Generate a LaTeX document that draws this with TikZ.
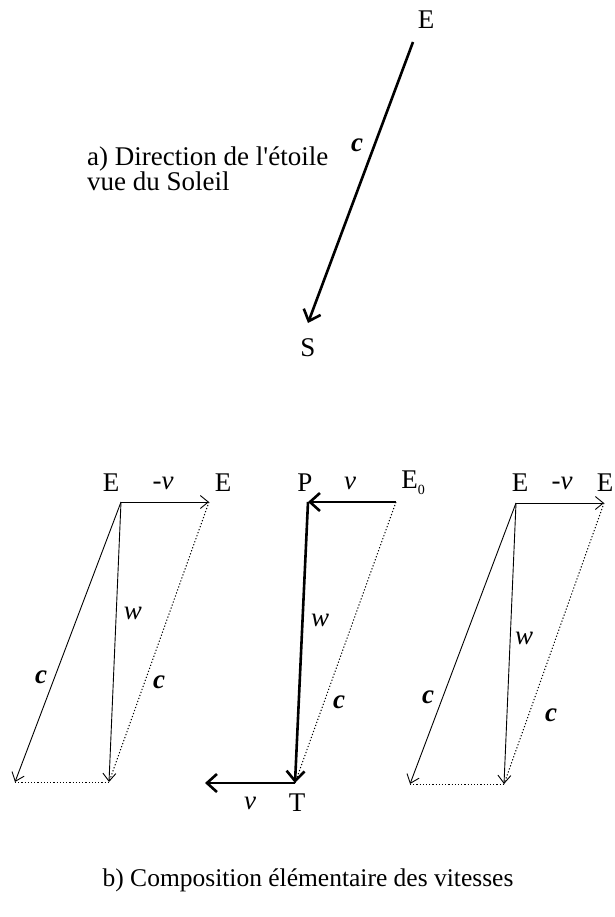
\documentclass[tikz,border=0pt]{standalone}
\usepackage{fontspec}
\setmainfont{Liberation Serif}
\usetikzlibrary{arrows.meta}

\begin{document}
\begin{tikzpicture}[x=1pt, y=-1pt, font=\fontsize{27}{31}\selectfont,
    lbl/.style={inner sep=0pt},
    fine/.style={line width=0.9pt, -{Straight Barb[length=8pt,width=13pt]}},
    heavy/.style={line width=2.6pt, -{Straight Barb[length=10pt,width=18pt]}},
    dotline/.style={dash pattern=on 1.2pt off 2pt, line width=1pt}]
  \useasboundingbox (0,0) rectangle (614,917);

  % a) direction of the star
  \coordinate (e0) at (413,42);
  \coordinate (s0) at (308,323);
  \node[lbl] (Etop) at (426,20) {E};
  \node[lbl] (Sbot) at (308,348) {S};
  \draw[heavy] (e0) -- (s0);
  \node[lbl] (ctop) at (357,145) {\textbf{\textit{c}}};
  \node[lbl, anchor=north west, align=left, font=\fontsize{27}{25}\selectfont] (capa) at (87,147)
    {a) Direction de l\textquotesingle étoile\\vue du Soleil};

  % b) left
  \coordinate (o1) at (121,502);
  \coordinate (v1) at (209,502);
  \coordinate (c1) at (15,782);
  \coordinate (w1) at (109,782);
  \node[lbl] (E1) at (111,483) {E};
  \node[lbl] (mv1) at (163,483) {-\textit{v}};
  \node[lbl] (E1b) at (223,483) {E};
  \draw[fine] (o1) -- (v1);
  \draw[fine] (o1) -- (c1);
  \draw[fine] (o1) -- (w1);
  \draw[dotline] (v1) -- (w1);
  \draw[dotline] (c1) -- (w1);
  \node[lbl] (w1l) at (133,613) {\textit{w}};
  \node[lbl] (c1l) at (41,677) {\textbf{\textit{c}}};
  \node[lbl] (c1r) at (159,682) {\textbf{\textit{c}}};

  % b) middle
  \coordinate (p2) at (308,502);
  \coordinate (e2) at (396,502);
  \coordinate (t2) at (295,783);
  \coordinate (l2) at (205,783);
  \node[lbl] (P2) at (305,483) {P};
  \node[lbl] (v2) at (350,483) {\textit{v}};
  \node[lbl] (E2) at (413,483) {E\raisebox{-0.45ex}{\fontsize{14}{14}\selectfont 0}};
  \draw[heavy] (e2) -- (p2);
  \draw[heavy] (p2) -- (t2);
  \draw[heavy] (t2) -- (l2);
  \draw[dotline] (e2) -- (t2);
  \node[lbl] (w2l) at (320,620) {\textit{w}};
  \node[lbl] (c2l) at (339,702) {\textbf{\textit{c}}};
  \node[lbl] (v2b) at (250,803) {\textit{v}};
  \node[lbl] (T2) at (297,803) {T};

  % b) right
  \coordinate (o3) at (516,503);
  \coordinate (v3) at (604,503);
  \coordinate (c3) at (410,784);
  \coordinate (w3) at (504,784);
  \node[lbl] (E3) at (520,483) {E};
  \node[lbl] (mv3) at (562,483) {-\textit{v}};
  \node[lbl] (E3b) at (605,483) {E};
  \draw[fine] (o3) -- (v3);
  \draw[fine] (o3) -- (c3);
  \draw[fine] (o3) -- (w3);
  \draw[dotline] (v3) -- (w3);
  \draw[dotline] (c3) -- (w3);
  \node[lbl] (w3l) at (524,638) {\textit{w}};
  \node[lbl] (c3l) at (428,697) {\textbf{\textit{c}}};
  \node[lbl] (c3r) at (551,715) {\textbf{\textit{c}}};

  \node[lbl, font=\fontsize{25.5}{30}\selectfont] (capb) at (308,880) {b) Composition élémentaire des vitesses};
\end{tikzpicture}
\end{document}
